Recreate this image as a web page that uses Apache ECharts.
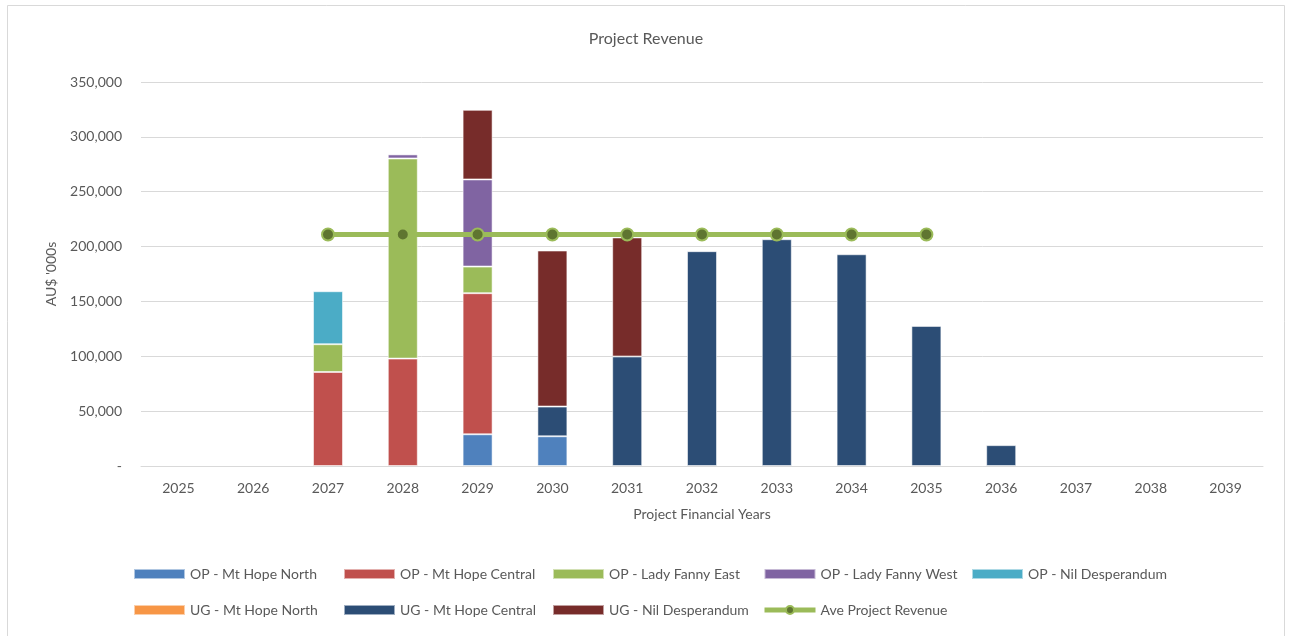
<!DOCTYPE html>
<html>
<head>
<meta charset="utf-8">
<script src="https://cdn.jsdelivr.net/npm/echarts@6/dist/echarts.min.js"></script>
<style>
  html, body { margin: 0; padding: 0; background: #fff; }
  #chart { width: 1292px; height: 636px; }
</style>
</head>
<body>
<div id="chart"></div>
<script>
  // values in AU$ '000s
  const years = ["2025", "2026", "2027", "2028", "2029", "2030", "2031", "2032", "2033", "2034", "2035", "2036", "2037", "2038", "2039"];
  const opMtHopeNorth   = [0, 0, 0, 0, 28900, 27100, 0, 0, 0, 0, 0, 0, 0, 0, 0];
  const opMtHopeCentral = [0, 0, 85700, 97900, 128600, 0, 0, 0, 0, 0, 0, 0, 0, 0, 0];
  const opLadyFannyEast = [0, 0, 25300, 182400, 24300, 0, 0, 0, 0, 0, 0, 0, 0, 0, 0];
  const opLadyFannyWest = [0, 0, 0, 3700, 79400, 0, 0, 0, 0, 0, 0, 0, 0, 0, 0];
  const opNilDesp       = [0, 0, 48300, 0, 0, 0, 0, 0, 0, 0, 0, 0, 0, 0, 0];
  const ugMtHopeNorth   = [0, 0, 0, 0, 0, 0, 0, 0, 0, 0, 0, 0, 0, 0, 0];
  const ugMtHopeCentral = [0, 0, 0, 0, 0, 27100, 99800, 195800, 206700, 193000, 127700, 19000, 0, 0, 0];
  const ugNilDesp       = [0, 0, 0, 0, 63400, 142200, 108500, 0, 0, 0, 0, 0, 0, 0, 0];
  const aveRevenue      = [null, null, 211000, 211000, 211000, 211000, 211000, 211000, 211000, 211000, 211000, null, null, null, null];

  const fontFamily = "Lato, 'Noto Sans', sans-serif";
  const textColor = "#595959";

  const barSeries = [
    { name: "OP - Mt Hope North", data: opMtHopeNorth, color: "#4F81BD" },
    { name: "OP - Mt Hope Central", data: opMtHopeCentral, color: "#C0504D" },
    { name: "OP - Lady Fanny East", data: opLadyFannyEast, color: "#9BBB59" },
    { name: "OP - Lady Fanny West", data: opLadyFannyWest, color: "#8064A2" },
    { name: "OP - Nil Desperandum", data: opNilDesp, color: "#4BACC6" },
    { name: "UG - Mt Hope North", data: ugMtHopeNorth, color: "#F79646" },
    { name: "UG - Mt Hope Central", data: ugMtHopeCentral, color: "#2C4D75" },
    { name: "UG - Nil Desperandum", data: ugNilDesp, color: "#772C2A" },
  ];

  // legend laid out in columns like the excel one
  const legendCols = [
    { left: 133, items: ["OP - Mt Hope North", "UG - Mt Hope North"] },
    { left: 343, items: ["OP - Mt Hope Central", "UG - Mt Hope Central"] },
    { left: 552, items: ["OP - Lady Fanny East", "UG - Nil Desperandum"] },
    { left: 762, items: ["OP - Lady Fanny West", "Ave Project Revenue"] },
    { left: 971, items: ["OP - Nil Desperandum"] },
  ];

  const chart = echarts.init(document.getElementById("chart"));

  const option = {
    backgroundColor: "#fff",
    textStyle: { fontFamily: fontFamily },
    title: {
      text: "Project Revenue",
      left: "center",
      top: 26,
      textStyle: { fontFamily: fontFamily, fontSize: 16, fontWeight: "normal", color: textColor },
    },
    graphic: [
      {
        type: "rect",
        shape: { x: 7.5, y: 5.5, width: 1277, height: 640 },
        style: { fill: "none", stroke: "#d9d9d9", lineWidth: 1 },
        silent: true,
      },
    ],
    legend: legendCols.map(col => ({
      orient: "vertical",
      left: col.left,
      top: 567,
      padding: 0,
      itemWidth: 51,
      itemHeight: 10,
      itemGap: 22,
      textStyle: { fontFamily: fontFamily, fontSize: 14, color: textColor },
      data: col.items.map(n =>
        n === "Ave Project Revenue"
          ? { name: n, lineStyle: { width: 5, color: "#9BBB59" } }
          : { name: n, icon: "rect" }
      ),
    })),
    grid: {
      left: 141,
      right: 29,
      top: 82,
      bottom: 170,
    },
    xAxis: {
      type: "category",
      data: years,
      name: "Project Financial Years",
      nameLocation: "middle",
      nameGap: 41,
      nameTextStyle: { fontFamily: fontFamily, fontSize: 14, color: textColor },
      axisLine: { lineStyle: { color: "#d9d9d9", width: 1 } },
      axisTick: { show: false },
      axisLabel: { fontFamily: fontFamily, fontSize: 14, color: textColor, margin: 15 },
    },
    yAxis: {
      type: "value",
      min: 0,
      max: 350000,
      interval: 50000,
      name: "AU$ '000s",
      nameLocation: "middle",
      nameGap: 83,
      nameRotate: 90,
      nameTextStyle: { fontFamily: fontFamily, fontSize: 14, color: textColor },
      axisLine: { show: false },
      axisTick: { show: false },
      splitLine: { lineStyle: { color: "#d9d9d9", width: 1 } },
      axisLabel: {
        fontFamily: fontFamily,
        fontSize: 14,
        color: textColor,
        margin: 19,
        formatter: v => (v === 0 ? "-" : v.toLocaleString("en-US")),
      },
    },
    series: [
      ...barSeries.map(s => ({
        name: s.name,
        type: "bar",
        stack: "rev",
        // empty segments are left out so no hairline is drawn at zero
        data: s.data.map(v => (v === 0 ? null : v)),
        barWidth: 30,
        itemStyle: { color: s.color, borderColor: "rgba(255,255,255,0.55)", borderWidth: 1 },
      })),
      {
        name: "Ave Project Revenue",
        type: "line",
        data: aveRevenue,
        symbol: "circle",
        symbolSize: 12,
        z: 5,
        lineStyle: { color: "#9BBB59", width: 5 },
        itemStyle: { color: "#5F7530", borderColor: "#9BBB59", borderWidth: 2 },
      },
    ],
  };

  chart.setOption(option);
</script>
</body>
</html>
